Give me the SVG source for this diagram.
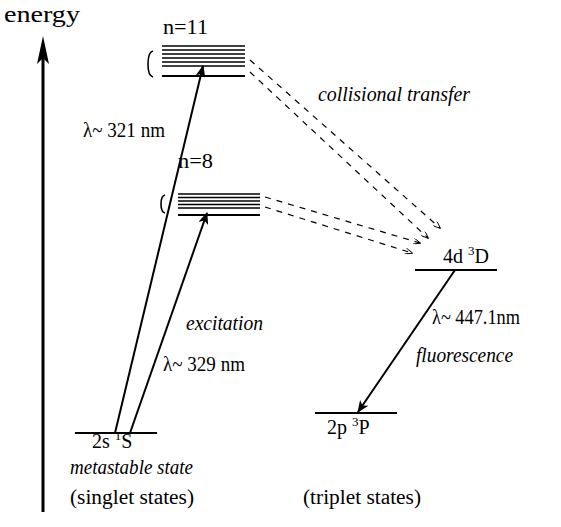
<svg xmlns="http://www.w3.org/2000/svg" width="561" height="527" viewBox="0 0 561 527" font-family="Liberation Serif">
<defs>
<style>
.lv{stroke:#000;stroke-width:2;fill:none}
.sub{stroke:#000;stroke-width:1.6;fill:none}
.ar{stroke:#000;stroke-width:2;fill:none}
.ds{stroke:#000;stroke-width:1.2;fill:none;stroke-dasharray:6 6}
</style>
<marker id="ah" viewBox="0 0 12 10" refX="11" refY="5" markerWidth="12" markerHeight="10" markerUnits="userSpaceOnUse" orient="auto">
<path d="M0,0 L12,5 L0,10 L3,5 Z" fill="#000"/>
</marker>
<marker id="ahs" viewBox="0 0 10 8" refX="9" refY="4" markerWidth="8" markerHeight="6" markerUnits="userSpaceOnUse" orient="auto">
<path d="M0,0 L10,4 L0,8" fill="none" stroke="#000" stroke-width="1.2"/>
</marker>
</defs>
<g id="axis">
<line x1="43" y1="512" x2="43" y2="52" stroke="#000" stroke-width="3"/>
<path d="M43,36 L49,64 L43,58 L37,64 Z" fill="#000"/>
<text x="4" y="22" style="font-family:'Liberation Serif';font-size:24px" textLength="76" lengthAdjust="spacingAndGlyphs">energy</text>
</g>
<g id="n11">
<text x="163" y="34" style="font-family:'Liberation Serif';font-size:20px" textLength="45" lengthAdjust="spacingAndGlyphs">n=11</text>
<path d="M153,51 Q148,52 148,64 Q148,76 153,77" class="sub"/>
<line x1="162" y1="46" x2="245" y2="46" class="sub"/>
<line x1="162" y1="50" x2="245" y2="50" class="sub"/>
<line x1="162" y1="54" x2="245" y2="54" class="sub"/>
<line x1="162" y1="58" x2="245" y2="58" class="sub"/>
<line x1="162" y1="62" x2="245" y2="62" class="sub"/>
<line x1="162" y1="66" x2="245" y2="66" class="sub"/>
<line x1="162" y1="76" x2="245" y2="76" class="lv"/>
</g>
<g id="n8">
<text x="178" y="168" style="font-family:'Liberation Serif';font-size:20px" textLength="35" lengthAdjust="spacingAndGlyphs">n=8</text>
<path d="M165,195 Q161,196 161,204 Q161,212 165,213" class="sub"/>
<line x1="178" y1="194" x2="260" y2="194" class="sub"/>
<line x1="178" y1="197.5" x2="260" y2="197.5" class="sub"/>
<line x1="178" y1="201" x2="260" y2="201" class="sub"/>
<line x1="178" y1="204.5" x2="260" y2="204.5" class="sub"/>
<line x1="178" y1="208" x2="260" y2="208" class="sub"/>
<line x1="178" y1="215" x2="260" y2="215" class="lv"/>
</g>
<g id="s2s">
<line x1="75" y1="433" x2="157" y2="433" class="lv"/>
<text x="92" y="448" style="font-family:'Liberation Serif';font-size:20px">2s <tspan style="font-size:13px" dy="-8">1</tspan><tspan dy="8">S</tspan></text>
<text x="70" y="474" style="font-family:'Liberation Serif';font-size:20px;font-style:italic" textLength="123" lengthAdjust="spacingAndGlyphs">metastable state</text>
</g>
<g id="d4d">
<line x1="415" y1="270" x2="497" y2="270" class="lv"/>
<text x="443" y="263" style="font-family:'Liberation Serif';font-size:20px">4d <tspan style="font-size:13px" dy="-8">3</tspan><tspan dy="8">D</tspan></text>
</g>
<g id="p2p">
<line x1="315" y1="413" x2="397" y2="413" class="lv"/>
<text x="327" y="434" style="font-family:'Liberation Serif';font-size:20px">2p <tspan style="font-size:13px" dy="-8">3</tspan><tspan dy="8">P</tspan></text>
</g>
<g id="connectors">
<line x1="115" y1="433" x2="203" y2="66" class="ar" marker-end="url(#ah)"/>
<line x1="130" y1="433" x2="207" y2="213" class="ar" marker-end="url(#ah)"/>
<line x1="455" y1="270" x2="358" y2="412" class="ar" marker-end="url(#ah)"/>
<line x1="250" y1="60" x2="440" y2="228" class="ds" marker-end="url(#ahs)"/>
<line x1="250" y1="72" x2="428" y2="238" class="ds" marker-end="url(#ahs)"/>
<line x1="265" y1="197" x2="420" y2="243" class="ds" marker-end="url(#ahs)"/>
<line x1="265" y1="207" x2="412" y2="253" class="ds" marker-end="url(#ahs)"/>
</g>
<g id="labels">
<text x="83" y="137" style="font-family:'Liberation Serif';font-size:20px" textLength="82" lengthAdjust="spacingAndGlyphs">λ~ 321 nm</text>
<text x="318" y="101" style="font-family:'Liberation Serif';font-size:20px;font-style:italic" textLength="152" lengthAdjust="spacingAndGlyphs">collisional transfer</text>
<text x="186" y="330" style="font-family:'Liberation Serif';font-size:20px;font-style:italic" textLength="77" lengthAdjust="spacingAndGlyphs">excitation</text>
<text x="163" y="371" style="font-family:'Liberation Serif';font-size:20px" textLength="82" lengthAdjust="spacingAndGlyphs">λ~ 329 nm</text>
<text x="432" y="324" style="font-family:'Liberation Serif';font-size:20px" textLength="88" lengthAdjust="spacingAndGlyphs">λ~ 447.1nm</text>
<text x="416" y="362" style="font-family:'Liberation Serif';font-size:20px;font-style:italic" textLength="97" lengthAdjust="spacingAndGlyphs">fluorescence</text>
<text x="70" y="504" style="font-family:'Liberation Serif';font-size:20px" textLength="124" lengthAdjust="spacingAndGlyphs">(singlet states)</text>
<text x="303" y="504" style="font-family:'Liberation Serif';font-size:20px" textLength="118" lengthAdjust="spacingAndGlyphs">(triplet states)</text>
</g>
</svg>
